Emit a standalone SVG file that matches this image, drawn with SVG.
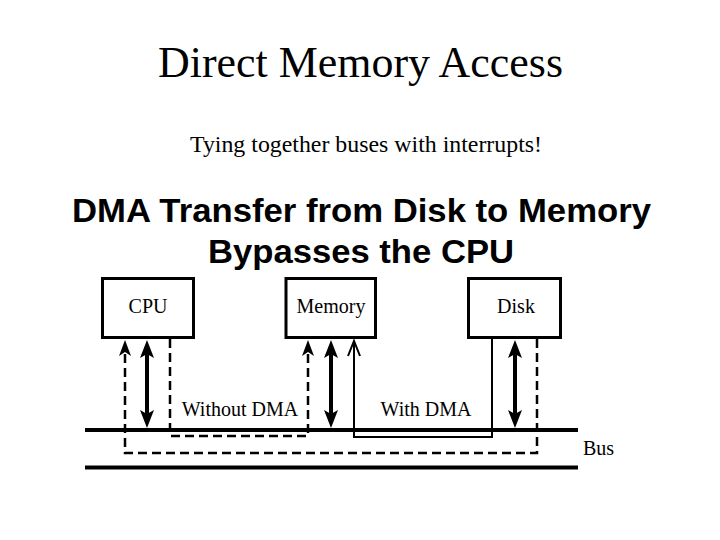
<svg xmlns="http://www.w3.org/2000/svg" width="720" height="540" viewBox="0 0 720 540">
<style>
.serif{font-family:"Liberation Serif","Times New Roman",serif;fill:#000}
.bold{font-family:"Liberation Sans",Arial,sans-serif;font-weight:bold;fill:#000}
.box{fill:#fff;stroke:#000;stroke-width:3}
.bus{stroke:#000;stroke-width:4;fill:none}
.dash{stroke:#000;stroke-width:2.5;fill:none;stroke-dasharray:9,5}
.thin{stroke:#000;stroke-width:2;fill:none}
.thick{stroke:#000;stroke-width:4;fill:none}
.head{fill:#000}
</style>
<rect width="720" height="540" fill="#fff"/>
<text class="serif" x="158" y="77" font-size="44" textLength="405" lengthAdjust="spacingAndGlyphs">Direct Memory Access</text>
<text class="serif" x="190" y="152" font-size="24" textLength="352" lengthAdjust="spacingAndGlyphs">Tying together buses with interrupts!</text>
<text class="bold" x="72" y="222" font-size="34" textLength="579" lengthAdjust="spacingAndGlyphs">DMA Transfer from Disk to Memory</text>
<text class="bold" x="208" y="263" font-size="34" textLength="306" lengthAdjust="spacingAndGlyphs">Bypasses the CPU</text>

<g id="connectors">
  <line class="bus" x1="85" y1="430" x2="578" y2="430"/>
  <line class="bus" x1="85" y1="467.5" x2="578" y2="467.5"/>
  <polyline class="dash" points="537,339 537,453 125,453 125,350"/>
  <polygon class="head" points="125,340 119,356 125,352 131,356"/>
  <polyline class="dash" points="170,339 170,436 308,436 308,350"/>
  <polygon class="head" points="308,340 302,356 308,352 314,356"/>
  <polyline class="thin" points="492,339 492,437 354,437 354,344"/>
  <polyline class="thin" points="348,356 354,341 360,356"/>
  <line class="thick" x1="147" y1="352" x2="147" y2="416"/>
  <polygon class="head" points="147,340 140,358 147,354 154,358"/>
  <polygon class="head" points="147,428 140,410 147,414 154,410"/>
  <line class="thick" x1="331" y1="352" x2="331" y2="416"/>
  <polygon class="head" points="331,340 324,358 331,354 338,358"/>
  <polygon class="head" points="331,428 324,410 331,414 338,410"/>
  <line class="thick" x1="515" y1="352" x2="515" y2="416"/>
  <polygon class="head" points="515,340 508,358 515,354 522,358"/>
  <polygon class="head" points="515,428 508,410 515,414 522,410"/>
</g>

<g id="cpu">
  <rect class="box" x="102.5" y="278.5" width="91" height="59"/>
  <text class="serif" x="148" y="313" font-size="20" text-anchor="middle">CPU</text>
</g>
<g id="memory">
  <rect class="box" x="286" y="278.5" width="89.5" height="59"/>
  <text class="serif" x="331" y="313" font-size="20" text-anchor="middle">Memory</text>
</g>
<g id="disk">
  <rect class="box" x="468.5" y="278.5" width="92" height="59"/>
  <text class="serif" x="516" y="313" font-size="20" text-anchor="middle">Disk</text>
</g>

<text class="serif" x="240" y="416" font-size="20" text-anchor="middle">Without DMA</text>
<text class="serif" x="426" y="416" font-size="20" text-anchor="middle">With DMA</text>
<text class="serif" x="583" y="455" font-size="20">Bus</text>
</svg>
